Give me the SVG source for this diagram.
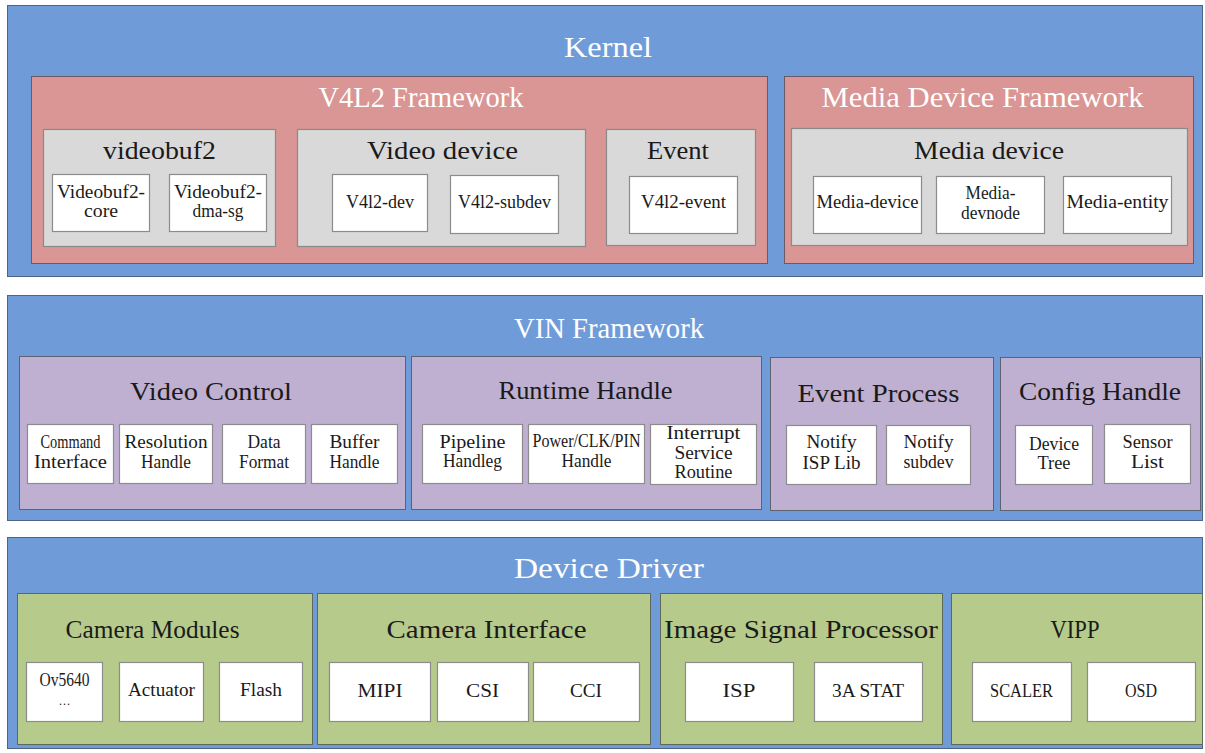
<svg xmlns="http://www.w3.org/2000/svg" width="1205" height="753" viewBox="0 0 1205 753">
<style>
text{font-family:"Liberation Serif","Times New Roman",serif;text-anchor:middle}
.sec{fill:#6f9cd9;stroke:#4f6484;stroke-width:1}
.pink{fill:#d99694;stroke:#6b5a66;stroke-width:1}
.gray{fill:#d9d9d9;stroke:#8a8a8a;stroke-width:1.2}
.purp{fill:#bfb0d2;stroke:#5d6270;stroke-width:1}
.grn{fill:#b6ca8b;stroke:#5d6a5a;stroke-width:1}
.wb{fill:#fff;stroke:#8c8c8c;stroke-width:1.2}
.t1{font-size:29px;fill:#fff}
.t3{font-size:25px;fill:#1a1a1a}
.t4{font-size:18px;fill:#1a1a1a}
.t5{font-size:19px;fill:#1a1a1a}
</style>
<rect width="1205" height="753" fill="#fff"/>

<g id="kernel">
<rect class="sec" x="7.5" y="5.5" width="1195" height="271"/>
<text class="t1" x="608" y="57" textLength="88" lengthAdjust="spacingAndGlyphs">Kernel</text>
</g>
<g id="v4l2-framework">
<rect class="pink" x="31.5" y="76.5" width="736" height="187"/>
<text class="t1" x="421" y="107" textLength="205" lengthAdjust="spacingAndGlyphs">V4L2 Framework</text>
</g>
<g id="videobuf2">
<rect class="gray" x="43.5" y="129.5" width="232" height="117"/>
<text class="t3" x="159.5" y="159" textLength="113" lengthAdjust="spacingAndGlyphs">videobuf2</text>
</g>
<g id="videobuf2-core">
<rect class="wb" x="52.5" y="174.5" width="97" height="57"/>
<text class="t4" x="101" y="198" textLength="88" lengthAdjust="spacingAndGlyphs">Videobuf2-</text>
<text class="t4" x="101" y="217" textLength="34" lengthAdjust="spacingAndGlyphs">core</text>
</g>
<g id="videobuf2-dma-sg">
<rect class="wb" x="169.5" y="174.5" width="97" height="57"/>
<text class="t4" x="218" y="198" textLength="88" lengthAdjust="spacingAndGlyphs">Videobuf2-</text>
<text class="t4" x="218" y="217" textLength="51" lengthAdjust="spacingAndGlyphs">dma-sg</text>
</g>
<g id="video-device">
<rect class="gray" x="297.5" y="129.5" width="288" height="117"/>
<text class="t3" x="442.5" y="159" textLength="151" lengthAdjust="spacingAndGlyphs">Video device</text>
</g>
<g id="v4l2-dev">
<rect class="wb" x="332.5" y="174.5" width="95" height="57"/>
<text class="t4" x="380" y="208" textLength="68" lengthAdjust="spacingAndGlyphs">V4l2-dev</text>
</g>
<g id="v4l2-subdev">
<rect class="wb" x="450.5" y="175.5" width="108" height="58"/>
<text class="t4" x="504.5" y="208" textLength="93" lengthAdjust="spacingAndGlyphs">V4l2-subdev</text>
</g>
<g id="event">
<rect class="gray" x="606.5" y="129.5" width="149" height="116"/>
<text class="t3" x="678" y="159" textLength="62" lengthAdjust="spacingAndGlyphs">Event</text>
</g>
<g id="v4l2-event">
<rect class="wb" x="629.5" y="176.5" width="108" height="57"/>
<text class="t4" x="683.5" y="208" textLength="85" lengthAdjust="spacingAndGlyphs">V4l2-event</text>
</g>
<g id="media-device-framework">
<rect class="pink" x="784.5" y="76.5" width="409" height="187"/>
<text class="t1" x="982.5" y="107" textLength="322" lengthAdjust="spacingAndGlyphs">Media Device Framework</text>
</g>
<g id="media-device-group">
<rect class="gray" x="791.5" y="128.5" width="396" height="117"/>
<text class="t3" x="989" y="159" textLength="150" lengthAdjust="spacingAndGlyphs">Media device</text>
</g>
<g id="media-device">
<rect class="wb" x="813.5" y="176.5" width="108" height="57"/>
<text class="t4" x="867.5" y="208" textLength="102" lengthAdjust="spacingAndGlyphs">Media-device</text>
</g>
<g id="media-devnode">
<rect class="wb" x="936.5" y="176.5" width="108" height="57"/>
<text class="t4" x="990.5" y="199" textLength="50" lengthAdjust="spacingAndGlyphs">Media-</text>
<text class="t4" x="990.5" y="219" textLength="59" lengthAdjust="spacingAndGlyphs">devnode</text>
</g>
<g id="media-entity">
<rect class="wb" x="1063.5" y="176.5" width="108" height="57"/>
<text class="t4" x="1117.5" y="208" textLength="102" lengthAdjust="spacingAndGlyphs">Media-entity</text>
</g>

<g id="vin-framework">
<rect class="sec" x="7.5" y="295.5" width="1195" height="225"/>
<text class="t1" x="609" y="338" textLength="190" lengthAdjust="spacingAndGlyphs">VIN Framework</text>
</g>
<g id="video-control">
<rect class="purp" x="19.5" y="356.5" width="386" height="153"/>
<text class="t3" x="211" y="400" textLength="162" lengthAdjust="spacingAndGlyphs">Video Control</text>
</g>
<g id="command-interface">
<rect class="wb" x="27.5" y="424.5" width="86" height="59"/>
<text class="t4" x="70.5" y="448" textLength="60" lengthAdjust="spacingAndGlyphs">Command</text>
<text class="t4" x="70.5" y="468" textLength="73" lengthAdjust="spacingAndGlyphs">Interface</text>
</g>
<g id="resolution-handle">
<rect class="wb" x="119.5" y="424.5" width="93" height="59"/>
<text class="t4" x="166" y="448" textLength="83" lengthAdjust="spacingAndGlyphs">Resolution</text>
<text class="t4" x="166" y="468" textLength="50" lengthAdjust="spacingAndGlyphs">Handle</text>
</g>
<g id="data-format">
<rect class="wb" x="222.5" y="424.5" width="83" height="59"/>
<text class="t4" x="264" y="448" textLength="33" lengthAdjust="spacingAndGlyphs">Data</text>
<text class="t4" x="264" y="468" textLength="50" lengthAdjust="spacingAndGlyphs">Format</text>
</g>
<g id="buffer-handle">
<rect class="wb" x="311.5" y="424.5" width="86" height="59"/>
<text class="t4" x="354.5" y="448" textLength="50" lengthAdjust="spacingAndGlyphs">Buffer</text>
<text class="t4" x="354.5" y="468" textLength="50" lengthAdjust="spacingAndGlyphs">Handle</text>
</g>
<g id="runtime-handle">
<rect class="purp" x="411.5" y="356.5" width="350" height="153"/>
<text class="t3" x="585.5" y="399" textLength="174" lengthAdjust="spacingAndGlyphs">Runtime Handle</text>
</g>
<g id="pipeline-handleg">
<rect class="wb" x="422.5" y="424.5" width="100" height="59"/>
<text class="t4" x="472.5" y="448" textLength="66" lengthAdjust="spacingAndGlyphs">Pipeline</text>
<text class="t4" x="472.5" y="467" textLength="59" lengthAdjust="spacingAndGlyphs">Handleg</text>
</g>
<g id="power-clk-pin">
<rect class="wb" x="528.5" y="424.5" width="116" height="59"/>
<text class="t4" x="586.5" y="447" textLength="108" lengthAdjust="spacingAndGlyphs">Power/CLK/PIN</text>
<text class="t4" x="586.5" y="467" textLength="50" lengthAdjust="spacingAndGlyphs">Handle</text>
</g>
<g id="interrupt-service-routine">
<rect class="wb" x="650.5" y="424.5" width="106" height="60"/>
<text class="t4" x="703.5" y="439" textLength="74" lengthAdjust="spacingAndGlyphs">Interrupt</text>
<text class="t4" x="703.5" y="459" textLength="58" lengthAdjust="spacingAndGlyphs">Service</text>
<text class="t4" x="703.5" y="478" textLength="58" lengthAdjust="spacingAndGlyphs">Routine</text>
</g>
<g id="event-process">
<rect class="purp" x="770.5" y="357.5" width="223" height="153"/>
<text class="t3" x="878.5" y="402" textLength="162" lengthAdjust="spacingAndGlyphs">Event Process</text>
</g>
<g id="notify-isp-lib">
<rect class="wb" x="786.5" y="425.5" width="90" height="59"/>
<text class="t4" x="831.5" y="448" textLength="50" lengthAdjust="spacingAndGlyphs">Notify</text>
<text class="t4" x="831.5" y="469" textLength="58" lengthAdjust="spacingAndGlyphs">ISP Lib</text>
</g>
<g id="notify-subdev">
<rect class="wb" x="886.5" y="425.5" width="84" height="59"/>
<text class="t4" x="928.5" y="448" textLength="50" lengthAdjust="spacingAndGlyphs">Notify</text>
<text class="t4" x="928.5" y="468" textLength="50" lengthAdjust="spacingAndGlyphs">subdev</text>
</g>
<g id="config-handle">
<rect class="purp" x="1000.5" y="357.5" width="200" height="153"/>
<text class="t3" x="1100" y="400" textLength="162" lengthAdjust="spacingAndGlyphs">Config Handle</text>
</g>
<g id="device-tree">
<rect class="wb" x="1015.5" y="425.5" width="77" height="59"/>
<text class="t4" x="1054" y="450" textLength="50" lengthAdjust="spacingAndGlyphs">Device</text>
<text class="t4" x="1054" y="469" textLength="33" lengthAdjust="spacingAndGlyphs">Tree</text>
</g>
<g id="sensor-list">
<rect class="wb" x="1104.5" y="424.5" width="86" height="59"/>
<text class="t4" x="1147.5" y="448" textLength="50" lengthAdjust="spacingAndGlyphs">Sensor</text>
<text class="t4" x="1147.5" y="468" textLength="33" lengthAdjust="spacingAndGlyphs">List</text>
</g>

<g id="device-driver">
<rect class="sec" x="7.5" y="537.5" width="1195" height="211"/>
<text class="t1" x="609" y="578" textLength="190" lengthAdjust="spacingAndGlyphs">Device Driver</text>
</g>
<g id="camera-modules">
<rect class="grn" x="17.5" y="593.5" width="295" height="151"/>
<text class="t3" x="152.5" y="638" textLength="174" lengthAdjust="spacingAndGlyphs">Camera Modules</text>
</g>
<g id="ov5640">
<rect class="wb" x="26.5" y="662.5" width="76" height="59"/>
<text class="t4" x="64.5" y="686" textLength="50" lengthAdjust="spacingAndGlyphs">Ov5640</text>
<text x="64.5" y="705" font-size="12" fill="#1a1a1a">…</text>
</g>
<g id="actuator">
<rect class="wb" x="119.5" y="662.5" width="84" height="59"/>
<text class="t4" x="161.5" y="696" textLength="67" lengthAdjust="spacingAndGlyphs">Actuator</text>
</g>
<g id="flash">
<rect class="wb" x="219.5" y="662.5" width="83" height="59"/>
<text class="t4" x="261" y="696" textLength="42" lengthAdjust="spacingAndGlyphs">Flash</text>
</g>
<g id="camera-interface">
<rect class="grn" x="317.5" y="593.5" width="333" height="151"/>
<text class="t3" x="486.5" y="638" textLength="200" lengthAdjust="spacingAndGlyphs">Camera Interface</text>
</g>
<g id="mipi">
<rect class="wb" x="329.5" y="662.5" width="101" height="59"/>
<text class="t5" x="380" y="697" textLength="45" lengthAdjust="spacingAndGlyphs">MIPI</text>
</g>
<g id="csi">
<rect class="wb" x="437.5" y="662.5" width="91" height="59"/>
<text class="t5" x="482.5" y="697" textLength="33" lengthAdjust="spacingAndGlyphs">CSI</text>
</g>
<g id="cci">
<rect class="wb" x="533.5" y="662.5" width="106" height="59"/>
<text class="t5" x="586" y="697" textLength="32" lengthAdjust="spacingAndGlyphs">CCI</text>
</g>
<g id="image-signal-processor">
<rect class="grn" x="660.5" y="593.5" width="282" height="151"/>
<text class="t3" x="801" y="638" textLength="274" lengthAdjust="spacingAndGlyphs">Image Signal Processor</text>
</g>
<g id="isp">
<rect class="wb" x="685.5" y="662.5" width="108" height="59"/>
<text class="t5" x="739" y="697" textLength="33" lengthAdjust="spacingAndGlyphs">ISP</text>
</g>
<g id="3a-stat">
<rect class="wb" x="814.5" y="662.5" width="108" height="59"/>
<text class="t5" x="868" y="697" textLength="72" lengthAdjust="spacingAndGlyphs">3A STAT</text>
</g>
<g id="vipp">
<rect class="grn" x="951.5" y="593.5" width="251" height="151"/>
<text class="t3" x="1075" y="638" textLength="49" lengthAdjust="spacingAndGlyphs">VIPP</text>
</g>
<g id="scaler">
<rect class="wb" x="972.5" y="662.5" width="99" height="59"/>
<text class="t5" x="1021.5" y="697" textLength="63" lengthAdjust="spacingAndGlyphs">SCALER</text>
</g>
<g id="osd">
<rect class="wb" x="1087.5" y="662.5" width="108" height="59"/>
<text class="t5" x="1141" y="697" textLength="32" lengthAdjust="spacingAndGlyphs">OSD</text>
</g>

<g id="connectors"/>
</svg>
